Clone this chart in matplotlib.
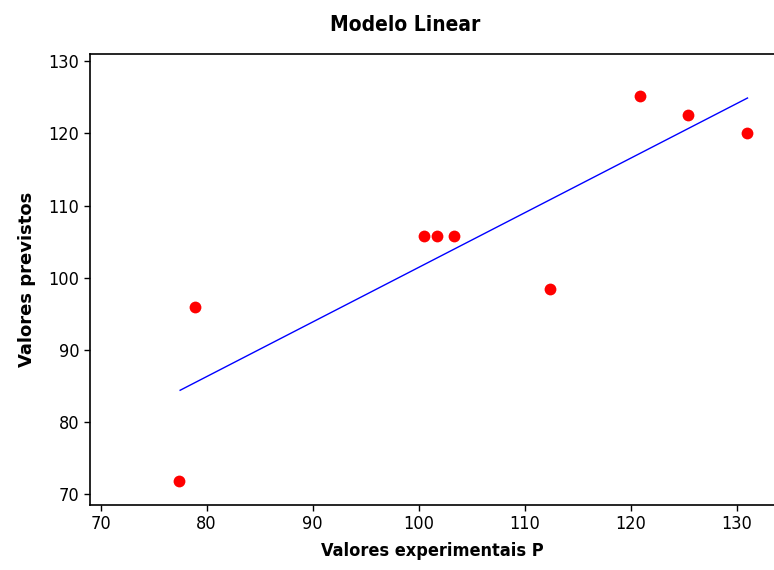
import matplotlib.pyplot as plt

# experimental vs predicted values
experimental = [77.4, 78.9, 100.5, 101.7, 103.3, 112.4, 120.9, 125.4, 131.0]
predicted = [71.8, 95.9, 105.8, 105.8, 105.8, 98.5, 125.2, 122.6, 120.0]

# fitted line endpoints
line_x = [77.5, 131.0]
line_y = [84.4, 124.9]

xticks = [70, 80, 90, 100, 110, 120, 130]
yticks = [70, 80, 90, 100, 110, 120, 130]

plt.rcParams['font.family'] = ['DejaVu Sans']
plt.rcParams['font.stretch'] = 'condensed'

fig = plt.figure(figsize=(7.74, 5.70), dpi=100)
ax = fig.add_axes([90 / 774, 1 - 505 / 570, 1 - 90 / 774, (505 - 54) / 570])

ax.plot(line_x, line_y, color='blue', linewidth=1.0)
ax.plot(experimental, predicted, 'o', color='red', markersize=8.5, markeredgewidth=0)

ax.set_xlim(69.0, 133.5)
ax.set_ylim(68.5, 131.0)
ax.set_xticks(xticks)
ax.set_yticks(yticks)
ax.spines['right'].set_visible(False)
for s in ['left', 'top', 'bottom']:
    ax.spines[s].set_linewidth(1.2)
ax.tick_params(direction='out', length=4, width=1, labelsize=13)

ax.set_xlabel('Valores experimentais P', fontsize=13, fontweight='bold', labelpad=6)
ax.set_ylabel('Valores previstos', fontsize=13, fontweight='bold', labelpad=9,
              fontstretch='normal')
fig.text(405 / 774, 1 - 25 / 570, 'Modelo Linear', fontsize=15, fontweight='bold',
         ha='center', va='center')

fig.savefig('out.png', dpi=100)
